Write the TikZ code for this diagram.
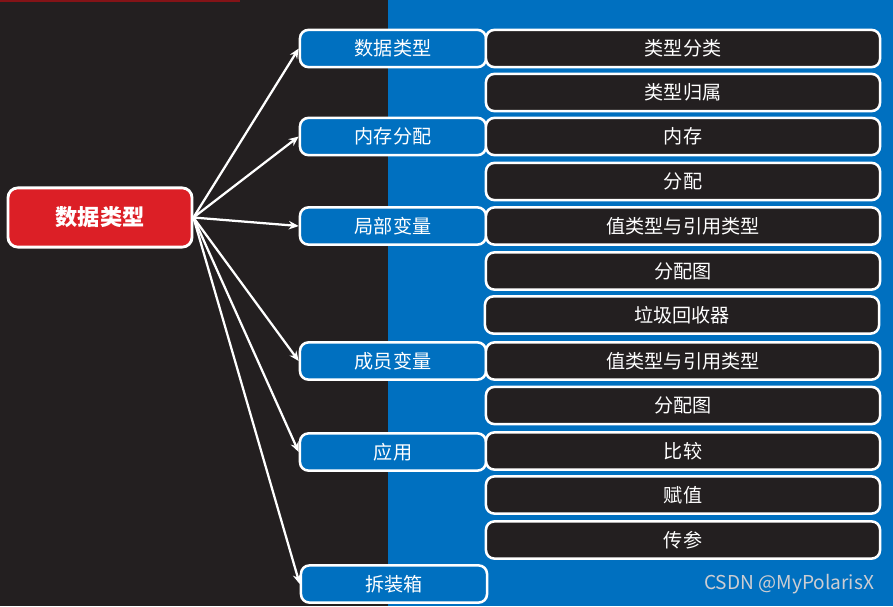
\documentclass[tikz,border=0pt]{standalone}
\usepackage{xcolor}
\usepackage{fontspec}
\setmainfont{Noto Sans CJK SC}
\usepackage{tikz}
\usetikzlibrary{arrows.meta}
\definecolor{darkbg}{RGB}{35, 31, 32}
\definecolor{primary}{RGB}{0, 112, 192}
\definecolor{rootred}{RGB}{220, 31, 38}
\definecolor{markgray}{RGB}{205, 205, 210}

\tikzset{
  rootbox/.style={draw=white, line width=2pt, fill=rootred, rounded corners=7pt,
    minimum width=4.6cm, minimum height=1.48cm, text=white, font=\fontsize{15.8}{17}\selectfont\bfseries},
  topicbox/.style={draw=white, line width=1.8pt, fill=primary, rounded corners=6pt,
    minimum width=4.65cm, minimum height=0.93cm, text=white, font=\fontsize{13.6}{15}\selectfont},
  itembox/.style={draw=white, line width=1.8pt, fill=darkbg, rounded corners=6pt,
    minimum width=9.85cm, minimum height=0.93cm, text=white, font=\fontsize{13.6}{15}\selectfont},
  link/.style={draw=white, line width=1.6pt, -{Stealth[length=7pt,width=6pt]}}
}

\begin{document}
\begin{tikzpicture}[x=0.025cm, y=-0.025cm]
% backgrounds
\fill[darkbg] (0,0) rectangle (893,606);
\fill[primary] (388,0) rectangle (893,606);
\fill[rootred!60!black] (0,0) rectangle (240,2);

% root
\node[rootbox] (root) at (100,217.5) {数据类型};

% topics
\node[topicbox] (types) at (393,48.5) {数据类型};
\node[topicbox] (memory) at (393,136.5) {内存分配};
\node[topicbox] (local) at (393,226) {局部变量};
\node[topicbox] (member) at (393,361) {成员变量};
\node[topicbox] (usage) at (393,452) {应用};
\node[topicbox] (boxing) at (394,584) {拆装箱};

% items
\node[itembox] (classify) at (683,48.5) {类型分类};
\node[itembox] (belong) at (683,92.5) {类型归属};
\node[itembox] (mem) at (683,136.5) {内存};
\node[itembox] (alloc) at (683,181.5) {分配};
\node[itembox] (localref) at (683,226) {值类型与引用类型};
\node[itembox] (localmap) at (683,271) {分配图};
\node[itembox] (gc) at (682,315) {垃圾回收器};
\node[itembox] (memberref) at (683,361) {值类型与引用类型};
\node[itembox] (membermap) at (683,405.5) {分配图};
\node[itembox] (compare) at (683,451) {比较};
\node[itembox] (assign) at (683,495) {赋值};
\node[itembox] (param) at (683,540) {传参};

% links
\draw[link] (root.east) -- (types.west);
\draw[link] (root.east) -- (memory.west);
\draw[link] (root.east) -- (local.west);
\draw[link] (root.east) -- (member.west);
\draw[link] (root.east) -- (usage.west);
\draw[link] (root.east) -- (boxing.west);

% watermark
\node[text=markgray, anchor=east, font=\fontsize{13.6}{15}\selectfont] (mark) at (879,584) {CSDN @MyPolarisX};
\end{tikzpicture}
\end{document}
